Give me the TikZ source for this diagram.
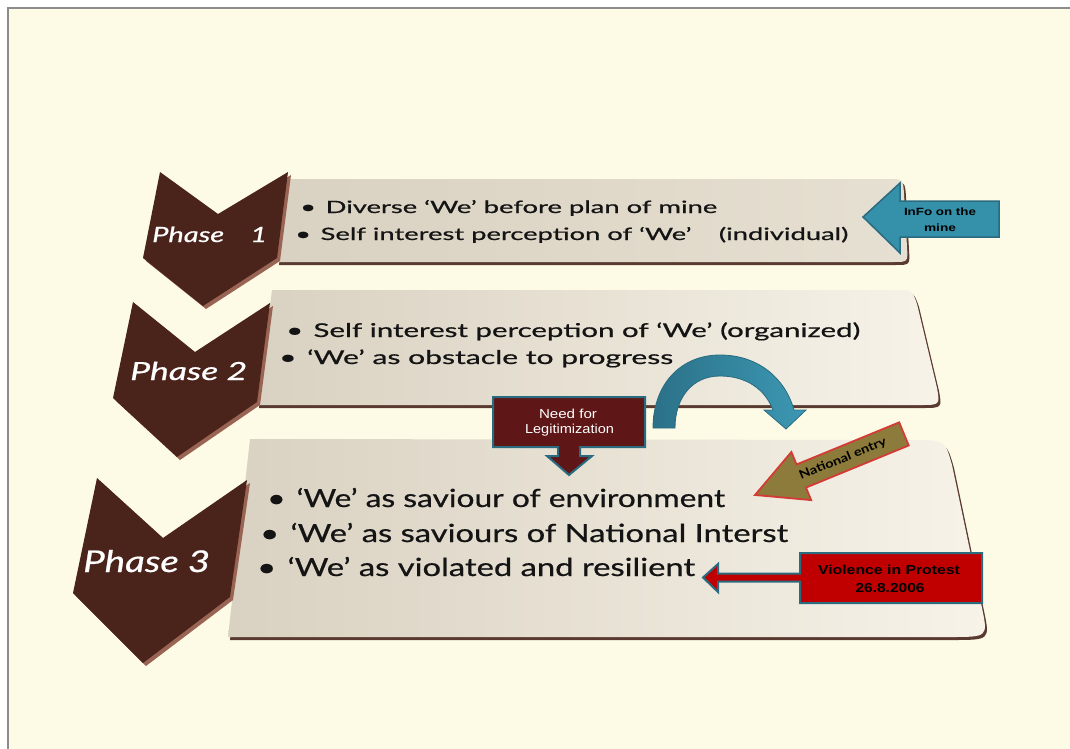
\documentclass[tikz,border=0pt]{standalone}
\usepackage{fontspec}
\setmainfont{Lato}
\newfontfamily\bodyfont{Lato}[FakeBold=0.6]
\newfontfamily\arialfont{Liberation Sans}
\newcommand{\fitto}[2]{\resizebox{#1}{\height}{#2}}
\definecolor{pagebg}{HTML}{FDFBE6}
\definecolor{frameline}{HTML}{8C8C8C}
\definecolor{chev}{HTML}{4A231B}
\definecolor{chevrim}{HTML}{9A6454}
\definecolor{boxL}{HTML}{D9D1C1}
\definecolor{boxM}{HTML}{E6E0D2}
\definecolor{boxR}{HTML}{F7F3E9}
\definecolor{boxshadow}{HTML}{5A3A30}
\definecolor{txt}{HTML}{141414}
\definecolor{tealF}{HTML}{3590AA}
\definecolor{tealD}{HTML}{2A6B80}
\definecolor{tealL}{HTML}{2B7188}
\definecolor{tealR}{HTML}{3C98B3}
\definecolor{maroon}{HTML}{5E1616}
\definecolor{olive}{HTML}{8C7B3A}
\definecolor{redB}{HTML}{D43A36}
\definecolor{redF}{HTML}{C00000}
\tikzset{
  chevbody/.style={fill=chev},
  chevedge/.style={fill=chevrim},
  shadowbox/.style={fill=boxshadow},
  bodyline/.style={anchor=base west, inner sep=0pt, text=txt, font=\bodyfont},
  phaselabel/.style={anchor=base west, inner sep=0pt, text=white, font=\bodyfont\itshape},
  calltext/.style={anchor=base, inner sep=0pt, font=\arialfont\bfseries},
  tealcallout/.style={fill=tealF, draw=tealD, line width=1.5pt, line join=miter},
}
\begin{document}
\begin{tikzpicture}[x=1pt,y=-1pt]
\useasboundingbox (0,0) rectangle (1070,749);
\fill[white] (0,0) rectangle (1070,749);
\fill[pagebg] (8,8) rectangle (1070,749);
\draw[frameline, line width=2pt] (8,749) -- (8,8) -- (1070,8);

% ---------- boxes ----------
\fill[shadowbox, shift={(2,3)}] (287,179) -- (889,179) .. controls (903,179) .. (904,194) -- (907,247) .. controls (908,262) .. (893,262) -- (277,262) -- cycle;
\shade[left color=boxL, right color=boxM] (287,179) -- (889,179) .. controls (903,179) .. (904,194) -- (907,247) .. controls (908,262) .. (893,262) -- (277,262) -- cycle;

\fill[shadowbox, shift={(2,3)}] (272,290) -- (900,290) .. controls (912,290) .. (917,304) -- (937,388) .. controls (940,405) .. (920,405) -- (257,405) -- cycle;
\shade[left color=boxL, right color=boxR] (272,290) -- (900,290) .. controls (912,290) .. (917,304) -- (937,388) .. controls (940,405) .. (920,405) -- (257,405) -- cycle;

\fill[shadowbox, shift={(2,3)}] (250,439) -- (913,440) .. controls (945,440) .. (952,465) -- (982,608) .. controls (988,637) .. (950,637) -- (228,637) -- cycle;
\shade[left color=boxL, right color=boxR] (250,439) -- (913,440) .. controls (945,440) .. (952,465) -- (982,608) .. controls (988,637) .. (950,637) -- (228,637) -- cycle;

% ---------- chevrons ----------
\fill[chevedge, shift={(3,3)}] (160,172) -- (218,214) -- (288,172) -- (277,258) -- (203,306) -- (143,258) -- cycle;
\fill[chevbody] (160,172) -- (218,214) -- (288,172) -- (277,258) -- (203,306) -- (143,258) -- cycle;

\fill[chevedge, shift={(3,3)}] (133,302) -- (195,352) -- (270,303) -- (257,402) -- (177,457) -- (113,398) -- cycle;
\fill[chevbody] (133,302) -- (195,352) -- (270,303) -- (257,402) -- (177,457) -- (113,398) -- cycle;

\fill[chevedge, shift={(3,3)}] (97,478) -- (163,538) -- (247,480) -- (230,597) -- (143,663) -- (73,593) -- cycle;
\fill[chevbody] (97,478) -- (163,538) -- (247,480) -- (230,597) -- (143,663) -- (73,593) -- cycle;

% ---------- phase labels ----------
\node[phaselabel] (ph1) at (152,242) {\fontsize{21}{24}\selectfont\fitto{115pt}{Phase\hspace{0.9em}1}};
\node[phaselabel] (ph2) at (130,380) {\fontsize{25}{28}\selectfont\fitto{117pt}{Phase 2}};
\node[phaselabel] (ph3) at (83,572) {\fontsize{30}{34}\selectfont\fitto{127pt}{Phase 3}};

% ---------- body text ----------
\node[bodyline] (p1a) at (300,213) {\fontsize{17}{20}\selectfont\fitto{417pt}{\textbullet\hspace{0.35em}Diverse ‘We’ before plan of mine}};
\node[bodyline] (p1b) at (295,240) {\fontsize{17}{20}\selectfont\fitto{553pt}{\textbullet\hspace{0.35em}Self interest perception of ‘We’\hspace{1em}(individual)}};

\node[bodyline] (p2a) at (286,337) {\fontsize{19}{22}\selectfont\fitto{574pt}{\textbullet\hspace{0.35em}Self interest perception of ‘We’ (organized)}};
\node[bodyline] (p2b) at (279,364) {\fontsize{19}{22}\selectfont\fitto{394pt}{\textbullet\hspace{0.35em}‘We’ as obstacle to progress}};

\node[bodyline] (p3a) at (267,507) {\fontsize{25}{28}\selectfont\fitto{458pt}{\textbullet\hspace{0.35em}‘We’ as saviour of environment}};
\node[bodyline] (p3b) at (260,542) {\fontsize{25}{28}\selectfont\fitto{528pt}{\textbullet\hspace{0.35em}‘We’ as saviours of National Interst}};
\node[bodyline] (p3c) at (257,576) {\fontsize{25}{28}\selectfont\fitto{438pt}{\textbullet\hspace{0.35em}‘We’ as violated and resilient}};

% ---------- InFo callout ----------
\draw[tealcallout] (999,201) -- (999,237) -- (900,237) -- (900,253) -- (863,217) -- (900,183) -- (900,201) -- cycle;
\node[calltext] (info1) at (940,215.5) {\fontsize{10.5}{12}\selectfont\fitto{72pt}{InFo on the}};
\node[calltext] (info2) at (940,231.5) {\fontsize{10.5}{12}\selectfont\fitto{32pt}{mine}};

% ---------- curved arrow ----------
\shade[left color=tealL, right color=tealR, draw=tealD, line width=0.8pt]
  (653,428) .. controls (653,385) and (680,355) .. (720,355)
  .. controls (758,355) and (785,378) .. (794,410) -- (806,410) -- (786,429) -- (764,410) -- (773,410)
  .. controls (765,389) and (746,376) .. (720,376)
  .. controls (692,376) and (675,398) .. (675,428) -- cycle;

% ---------- Need for Legitimization ----------
\draw[fill=maroon, draw=tealD, line width=2pt, line join=miter] (493,397) -- (645,397) -- (645,447) -- (580,447) -- (580,456) -- (592,456) -- (569,475) -- (547,456) -- (558,456) -- (558,447) -- (493,447) -- cycle;
\node[calltext, font=\arialfont, text=white] (need1) at (568,418) {\fontsize{13}{15}\selectfont\fitto{58pt}{Need for}};
\node[calltext, font=\arialfont, text=white] (need2) at (569.5,433) {\fontsize{13}{15}\selectfont\fitto{89pt}{Legitimization}};

% ---------- National entry ----------
\begin{scope}[shift={(755,495)}, rotate=22.3]
\draw[fill=olive, draw=redB, line width=1.8pt, line join=miter] (0,0) -- (50,-26) -- (50,-12.5) -- (161,-12.5) -- (161,12.5) -- (50,12.5) -- (50,26) -- cycle;
\node[inner sep=0pt, rotate=22.3, font=\bfseries, text=black] (natent) at (95,0) {\fontsize{12}{14}\selectfont\fitto{93pt}{National entry}};
\end{scope}

% ---------- Violence callout ----------
\draw[fill=redF, draw=tealD, line width=2pt, line join=miter] (800,553) -- (982,553) -- (982,603) -- (800,603) -- (800,581.5) -- (718,581.5) -- (718,592) -- (703,577.5) -- (718,564) -- (718,573.5) -- (800,573.5) -- cycle;
\node[calltext, text=black] (viol1) at (889,574) {\fontsize{13}{15}\selectfont\fitto{142pt}{Violence in Protest}};
\node[calltext, text=black] (viol2) at (890,592) {\fontsize{13}{15}\selectfont\fitto{69pt}{26.8.2006}};
\end{tikzpicture}
\end{document}
